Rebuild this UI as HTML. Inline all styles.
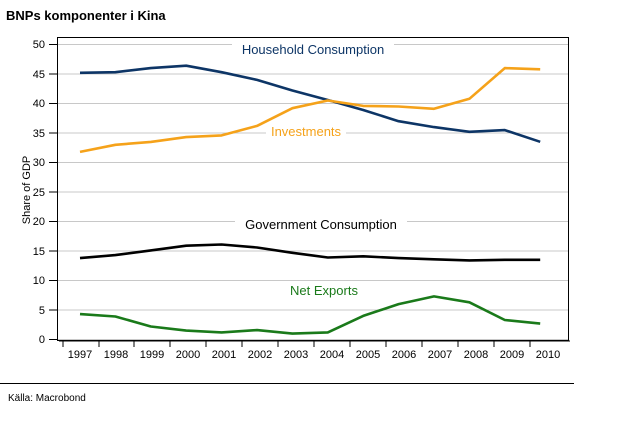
<!DOCTYPE html><html><head><style>body{margin:0;background:#fff}</style></head><body>
<svg width="619" height="424" xmlns="http://www.w3.org/2000/svg" font-family="Liberation Sans, sans-serif">
<text x="6" y="20" font-size="13" font-weight="bold">BNPs komponenter i Kina</text>
<g stroke="#c8c8c8" stroke-width="1">
<line x1="57" x2="568" y1="44.5" y2="44.5"/><line x1="57" x2="568" y1="74" y2="74"/><line x1="57" x2="568" y1="103.5" y2="103.5"/><line x1="57" x2="568" y1="133" y2="133"/><line x1="57" x2="568" y1="162.5" y2="162.5"/><line x1="57" x2="568" y1="192" y2="192"/><line x1="57" x2="568" y1="221.5" y2="221.5"/><line x1="57" x2="568" y1="251" y2="251"/><line x1="57" x2="568" y1="280.5" y2="280.5"/><line x1="57" x2="568" y1="310" y2="310"/><line x1="57" x2="568" y1="339.5" y2="339.5"/>
</g>
<rect x="57.5" y="37.5" width="511" height="303" fill="none" stroke="#000"/>
<g font-size="11" text-anchor="end">
<text x="45" y="48">50</text><text x="45" y="78">45</text><text x="45" y="107">40</text><text x="45" y="137">35</text><text x="45" y="166">30</text><text x="45" y="196">25</text><text x="45" y="225">20</text><text x="45" y="255">15</text><text x="45" y="284">10</text><text x="45" y="314">5</text><text x="45" y="343">0</text>
</g>
<g stroke="#000"><line x1="49" x2="57" y1="44.5" y2="44.5"/><line x1="49" x2="57" y1="74" y2="74"/><line x1="49" x2="57" y1="103.5" y2="103.5"/><line x1="49" x2="57" y1="133" y2="133"/><line x1="49" x2="57" y1="162.5" y2="162.5"/><line x1="49" x2="57" y1="192" y2="192"/><line x1="49" x2="57" y1="221.5" y2="221.5"/><line x1="49" x2="57" y1="251" y2="251"/><line x1="49" x2="57" y1="280.5" y2="280.5"/><line x1="49" x2="57" y1="310" y2="310"/><line x1="49" x2="57" y1="339.5" y2="339.5"/>
<line x1="59" x2="570" y1="341" y2="341"/>
<g id="t"><line x1="63" x2="63" y1="341" y2="347"/></g>
<line x1="99" x2="99" y1="341" y2="347"/><line x1="134" x2="134" y1="341" y2="347"/><line x1="170" x2="170" y1="341" y2="347"/><line x1="206" x2="206" y1="341" y2="347"/><line x1="242" x2="242" y1="341" y2="347"/><line x1="278" x2="278" y1="341" y2="347"/><line x1="314" x2="314" y1="341" y2="347"/><line x1="350" x2="350" y1="341" y2="347"/><line x1="386" x2="386" y1="341" y2="347"/><line x1="422" x2="422" y1="341" y2="347"/><line x1="458" x2="458" y1="341" y2="347"/><line x1="494" x2="494" y1="341" y2="347"/><line x1="530" x2="530" y1="341" y2="347"/>
</g>
<g font-size="11" text-anchor="middle">
<text x="80" y="358">1997</text><text x="116" y="358">1998</text><text x="152" y="358">1999</text><text x="188" y="358">2000</text><text x="224" y="358">2001</text><text x="260" y="358">2002</text><text x="296" y="358">2003</text><text x="332" y="358">2004</text><text x="368" y="358">2005</text><text x="404" y="358">2006</text><text x="440" y="358">2007</text><text x="476" y="358">2008</text><text x="512" y="358">2009</text><text x="548" y="358">2010</text>
</g>
<text transform="translate(30,190) rotate(-90)" font-size="11" text-anchor="middle">Share of GDP</text>
<g fill="none" stroke-width="2.6" stroke-linejoin="round">
<polyline stroke="#0d3566" points="80,72.8 115.4,72.2 150.8,68.1 186.2,65.7 221.6,72.2 257,79.9 292.4,90.5 327.8,100 363.2,110 398.6,121.2 434,127.1 469.4,131.8 504.8,130.1 540.2,141.8"/>
<polyline stroke="#f5a21a" points="80,151.9 115.4,144.8 150.8,141.9 186.2,137.1 221.6,135.4 257,125.9 292.4,108.2 327.8,100.5 363.2,105.9 398.6,106.5 434,108.8 469.4,98.8 504.8,68.1 540.2,69.3"/>
<polyline stroke="#000" points="80,258.1 115.4,255.1 150.8,250.4 186.2,245.7 221.6,244.5 257,247.5 292.4,252.8 327.8,257.5 363.2,256.3 398.6,258.1 434,259.3 469.4,260.4 504.8,259.8 540.2,259.8"/>
<polyline stroke="#1a7a1a" points="80,314.1 115.4,316.5 150.8,326.5 186.2,330.6 221.6,332.4 257,330.1 292.4,333.6 327.8,332.4 363.2,315.9 398.6,304.1 434,296.4 469.4,302.3 504.8,320 540.2,323.6"/>
</g>
<rect x="232" y="41" width="162" height="16" fill="#fff"/>
<text x="313" y="54" font-size="13" fill="#0d3566" text-anchor="middle">Household Consumption</text>
<rect x="266" y="123" width="80" height="16" fill="#fff"/>
<text x="306" y="136" font-size="13" fill="#f5a21a" text-anchor="middle">Investments</text>
<rect x="235" y="216" width="172" height="16" fill="#fff"/>
<text x="321" y="229" font-size="13" fill="#000" text-anchor="middle">Government Consumption</text>
<rect x="286" y="282" width="76" height="16" fill="#fff"/>
<text x="324" y="295" font-size="13" fill="#1a7a1a" text-anchor="middle">Net Exports</text>
<line x1="0" x2="574" y1="383.5" y2="383.5" stroke="#000"/>
<text x="8" y="401" font-size="10">Källa: Macrobond</text>
</svg>
</body></html>
